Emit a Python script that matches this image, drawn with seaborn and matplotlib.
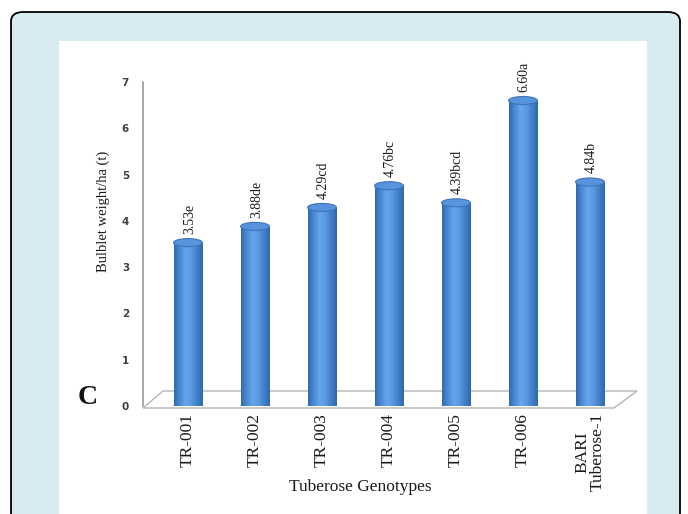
import numpy as np
import pandas as pd
import matplotlib
matplotlib.use("Agg")
import matplotlib.pyplot as plt
import seaborn as sns
from matplotlib.patches import Ellipse, Polygon, FancyBboxPatch, Rectangle
from matplotlib.colors import LinearSegmentedColormap

# ---- data ----
genotypes = ["TR-001", "TR-002", "TR-003", "TR-004", "TR-005", "TR-006", "BARI\nTuberose-1"]
weights = [3.53, 3.88, 4.29, 4.76, 4.39, 6.60, 4.84]
letters = ["e", "de", "cd", "bc", "bcd", "a", "b"]
y_ticks = [0, 1, 2, 3, 4, 5, 6, 7]

df = pd.DataFrame({"Genotype": genotypes, "Weight": weights})

sns.set_theme(style="white")
W, H = 688, 514
fig = plt.figure(figsize=(W / 100, H / 100), dpi=100)
fig.patch.set_facecolor("white")

def fx(px):
    return px / W

def fy(py):
    return 1 - py / H

# outer light-blue rounded panel with black border
bg = FancyBboxPatch((fx(11), fy(530)), fx(680) - fx(11), fy(12) - fy(530),
                    boxstyle="round,pad=0,rounding_size=0.018",
                    transform=fig.transFigure, facecolor="#d7ebf1",
                    edgecolor="black", linewidth=1.3, zorder=-10)
fig.patches.append(bg)
inner = Rectangle((fx(59), 0), fx(647) - fx(59), fy(41), transform=fig.transFigure,
                  facecolor="white", edgecolor="none", zorder=-9)
fig.patches.append(inner)

# axes geometry
x_left, x_right = 143, 645
y_top, y_zero = 82, 406
px_per_unit_x = 67.0
xmin = -(188 - x_left) / px_per_unit_x
xmax = xmin + (x_right - x_left) / px_per_unit_x
ax = fig.add_axes([fx(x_left), fy(y_zero), fx(x_right) - fx(x_left), fy(y_top) - fy(y_zero)])
ax.set_facecolor("none")

bar_w = 0.43
sns.barplot(data=df, x="Genotype", y="Weight", color="#4a88d0", width=bar_w,
            ax=ax, saturation=1, linewidth=0, zorder=3)

ax.set_xlim(xmin, xmax)
ax.set_ylim(0, 7)
ax.set_yticks(y_ticks)
ax.set_yticklabels([str(t) for t in y_ticks], fontsize=7.5, color="#404040",
                   fontweight="bold", family="DejaVu Sans")
ax.tick_params(axis="y", length=0, pad=10)
ax.tick_params(axis="x", length=0, pad=5)
ax.set_xticks(range(len(genotypes)))
ax.set_xticklabels(genotypes, rotation=90, fontsize=12.5, family="Liberation Serif",
                   color="#1a1a1a", va="top", linespacing=1.0, multialignment="center")
ax.set_xlabel("")
ax.set_ylabel("")
for s in ["top", "right", "bottom"]:
    ax.spines[s].set_visible(False)
ax.spines["left"].set_color("#9a9a9a")
ax.spines["left"].set_linewidth(1.2)

# floor parallelogram (in pixel-derived data coordinates)
def px2x(px):
    return xmin + (px - x_left) / px_per_unit_x

upp = 7.0 / (y_zero - y_top)
def py2y(py):
    return (y_zero - py) * upp

floor = Polygon([(px2x(143), py2y(408)), (px2x(614), py2y(408)),
                 (px2x(637), py2y(391)), (px2x(163), py2y(391))],
                closed=True, facecolor="white", edgecolor="#b5b5b5",
                linewidth=1.0, zorder=1, clip_on=False)
ax.add_patch(floor)

# cylinder shading
cmap = LinearSegmentedColormap.from_list(
    "cyl", ["#3168ae", "#4a8ad4", "#65a5ec", "#5a9ae2", "#4180c8", "#3366aa"])
grad = np.linspace(0, 1, 256).reshape(1, -1)
ell_h = 8 * upp
bars = [p for p in ax.patches if isinstance(p, Rectangle) and p.get_height() > 0.5]
for p, val, let in zip(bars, weights, letters):
    x0, y0, w, h = p.get_x(), p.get_y(), p.get_width(), p.get_height()
    xc = x0 + w / 2
    bottom_e = Ellipse((xc, y0), w, ell_h, facecolor="#3d78c0", edgecolor="none", zorder=2.5)
    ax.add_patch(bottom_e)
    im = ax.imshow(grad, extent=[x0, x0 + w, y0, y0 + h], aspect="auto", cmap=cmap,
                   zorder=3.5, interpolation="bilinear")
    im.set_clip_path(p)
    top_e = Ellipse((xc, y0 + h), w, ell_h, facecolor="#5894dc", edgecolor="#3b74bb",
                    linewidth=0.8, zorder=4)
    ax.add_patch(top_e)
    ax.text(xc + 0.02, y0 + h + ell_h / 2 + 0.1, f"{val:.2f}{let}", rotation=90,
            ha="center", va="bottom", fontsize=10, family="Liberation Serif",
            color="#1a1a1a", zorder=5)

ax.set_xlim(xmin, xmax)
ax.set_ylim(0, 7)

fig.text(fx(103), fy(211), "Bulblet weight/ha (t)", rotation=90, ha="center",
         va="center", fontsize=10.5, family="Liberation Serif", color="#1a1a1a")
fig.text(fx(360), fy(487), "Tuberose Genotypes", ha="center", va="center",
         fontsize=12.5, family="Liberation Serif", color="#1a1a1a")
fig.text(fx(88), fy(398), "C", ha="center", va="center", fontsize=20,
         fontweight="bold", family="Liberation Serif", color="#111111")

fig.savefig("out.png", dpi=100)
